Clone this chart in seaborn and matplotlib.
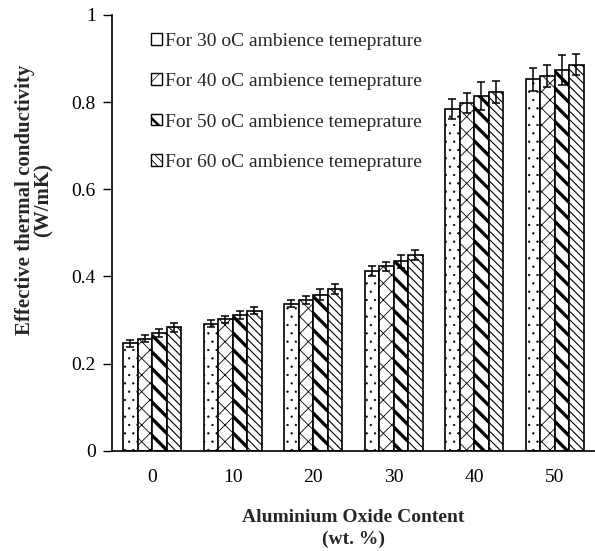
import numpy as np
import pandas as pd
import matplotlib
matplotlib.use("Agg")
import matplotlib.pyplot as plt
import matplotlib.patches as mpatches
from matplotlib.container import BarContainer
import seaborn as sns

# ---- data ----
content = ["0", "10", "20", "30", "40", "50"]
series_labels = ["For 30 oC ambience temeprature",
                 "For 40 oC ambience temeprature",
                 "For 50 oC ambience temeprature",
                 "For 60 oC ambience temeprature"]
k30 = [0.247, 0.291, 0.337, 0.413, 0.784, 0.852]
k40 = [0.257, 0.302, 0.346, 0.423, 0.798, 0.860]
k50 = [0.270, 0.311, 0.358, 0.435, 0.813, 0.874]
k60 = [0.283, 0.321, 0.371, 0.449, 0.823, 0.886]
e30 = [0.008, 0.008, 0.008, 0.011, 0.023, 0.027]
e40 = [0.008, 0.008, 0.009, 0.010, 0.023, 0.025]
e50 = [0.010, 0.009, 0.013, 0.015, 0.032, 0.034]
e60 = [0.010, 0.008, 0.011, 0.012, 0.026, 0.025]
yticks = [0, 0.2, 0.4, 0.6, 0.8, 1]
ytick_labels = ["0", "0.2", "0.4", "0.6", "0.8", "1"]

values = [k30, k40, k50, k60]
errors = [e30, e40, e50, e60]

df = pd.DataFrame({
    "content": content * 4,
    "series": [s for s in series_labels for _ in content],
    "k": [v for vals in values for v in vals],
})

sns.set_style("white")
plt.rcParams["font.family"] = ["Liberation Serif", "DejaVu Serif"]
plt.rcParams["hatch.linewidth"] = 1.0

fig = plt.figure(figsize=(5.95, 5.51), dpi=100)
ax = fig.add_axes([0.188, 0.182, 0.812, 0.791])

sns.barplot(data=df, x="content", y="k", hue="series", order=content,
            hue_order=series_labels, errorbar=None, width=0.72,
            palette=["white"] * 4, edgecolor="black", linewidth=1.2,
            saturation=1, ax=ax, legend=False)

hatches = ["..", "xx", "\\\\", "\\\\\\\\"]
hlw = [0.4, 0.6, 2.4, 0.8]
bar_containers = [c for c in ax.containers if isinstance(c, BarContainer)]
for i, cont in enumerate(bar_containers):
    xs = []
    for bar in cont.patches:
        bar.set_hatch(hatches[i])
        bar.set_facecolor("white")
        bar.set_edgecolor("black")
        if hasattr(bar, "set_hatch_linewidth"):
            bar.set_hatch_linewidth(hlw[i])
        xs.append(bar.get_x() + bar.get_width() / 2)
    ax.errorbar(xs, values[i], yerr=errors[i], fmt="none", ecolor="black",
                elinewidth=1.1, capsize=3, capthick=1.1, zorder=5)

ax.set_ylim(0, 1)
ax.set_xlim(-0.5, 5.5)
ax.set_yticks(yticks)
ax.set_yticklabels(ytick_labels)
ax.tick_params(axis="y", direction="out", length=6.5, width=1, pad=5,
               labelsize=14, colors="black", left=True)
ax.tick_params(axis="x", length=0, pad=13, labelsize=14, colors="black")

for s in ["top", "right"]:
    ax.spines[s].set_visible(False)
for s in ["left", "bottom"]:
    ax.spines[s].set_color("black")
    ax.spines[s].set_linewidth(1.2)

ax.set_xlabel("Aluminium Oxide Content\n(wt. %)", fontsize=14,
              fontweight="bold", labelpad=17, linespacing=1.3)
ax.set_ylabel("Effective thermal conductivity\n(W/mK)", fontsize=15,
              fontweight="bold", linespacing=0.95)
ax.yaxis.set_label_coords(-0.12, 0.575)

leg_hatches = ["", "x", "\\\\", "\\\\\\\\"]
leg_hlw = [0.5, 0.5, 1.8, 0.6]
handles = []
for i in range(4):
    p = mpatches.Patch(facecolor="white", edgecolor="black",
                       hatch=leg_hatches[i], linewidth=1)
    handles.append(p)
leg = ax.legend(handles, series_labels, loc="upper left",
                bbox_to_anchor=(0.053, 0.99), frameon=False, fontsize=14,
                handlelength=0.55, handleheight=0.55, handletextpad=0.15,
                labelspacing=1.2, borderpad=0.2)
for i, h in enumerate(leg.get_patches()):
    if hasattr(h, "set_hatch_linewidth"):
        h.set_hatch_linewidth(leg_hlw[i])

fig.savefig("out.png", dpi=100)
